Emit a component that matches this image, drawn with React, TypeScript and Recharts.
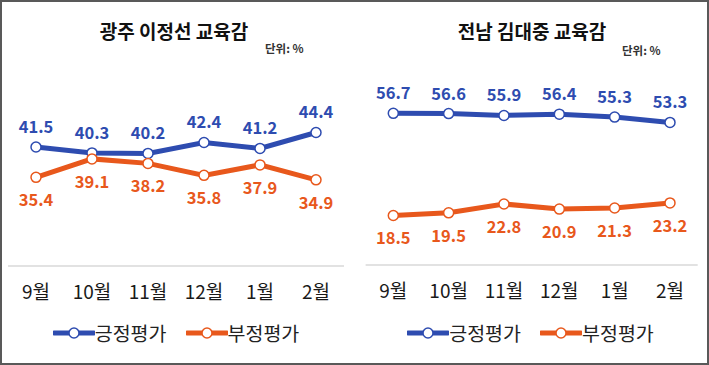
import React from 'react';
import { LineChart, Line, XAxis, YAxis, LabelList, Legend } from 'recharts';

const months = ['9월', '10월', '11월', '12월', '1월', '2월'];
const gwangjuPositive = [41.5, 40.3, 40.2, 42.4, 41.2, 44.4];
const gwangjuNegative = [35.4, 39.1, 38.2, 35.8, 37.9, 34.9];
const jeonnamPositive = [56.7, 56.6, 55.9, 56.4, 55.3, 53.3];
const jeonnamNegative = [18.5, 19.5, 22.8, 20.9, 21.3, 23.2];
const seriesNames = ['긍정평가', '부정평가'];

const BLUE = '#2E4CB0';
const ORANGE = '#E8581C';
const FONT = '"Noto Sans CJK KR", "Noto Sans", sans-serif';

const build = (pos: number[], neg: number[]) =>
  months.map((m, i) => ({ month: m, pos: pos[i], neg: neg[i] }));

const LegendContent = () => (
  <div style={{ display: 'flex', justifyContent: 'center', alignItems: 'center', fontFamily: FONT, fontSize: 19.5, color: '#222' }}>
    {[BLUE, ORANGE].map((c, i) => (
      <div key={i} style={{ display: 'flex', alignItems: 'center', marginLeft: i ? 19 : 0 }}>
        <svg width={42} height={14}>
          <line x1={1} y1={7} x2={41} y2={7} stroke={c} strokeWidth={5} strokeLinecap="round" />
          <circle cx={21} cy={7} r={5} fill="#fff" stroke={c} strokeWidth={1.5} />
        </svg>
        <span style={{ lineHeight: '24px' }}>{seriesNames[i]}</span>
      </div>
    ))}
  </div>
);

type PanelProps = {
  data: any[];
  width: number;
  domain: [number, number];
  pad: number;
  margin: { top: number; right: number; bottom: number; left: number };
};

const Panel = ({ data, width, domain, pad, margin }: PanelProps) => (
  <LineChart width={width} height={365} data={data} margin={margin}>
    <XAxis
      dataKey="month"
      height={30}
      tickLine={false}
      axisLine={{ stroke: '#D9D9D9', strokeWidth: 1.5 }}
      tick={{ fill: '#1a1a1a', fontSize: 19, fontFamily: FONT }}
      tickMargin={14}
      interval={0}
      padding={{ left: pad, right: pad }}
    />
    <YAxis hide domain={domain} allowDataOverflow />
    <Legend
      layout="horizontal"
      verticalAlign="middle"
      align="center"
      wrapperStyle={{ top: 321, left: 0, width: width }}
      content={() => <LegendContent />}
    />
    <Line
      dataKey="pos"
      name={seriesNames[0]}
      stroke={BLUE}
      strokeWidth={5}
      dot={{ r: 5, fill: '#fff', stroke: BLUE, strokeWidth: 1.5 }}
      isAnimationActive={false}
    >
      <LabelList dataKey="pos" position="top" offset={14} fill={BLUE} fontSize={16.5} fontWeight="bold" fontFamily={FONT} />
    </Line>
    <Line
      dataKey="neg"
      name={seriesNames[1]}
      stroke={ORANGE}
      strokeWidth={5}
      dot={{ r: 5, fill: '#fff', stroke: ORANGE, strokeWidth: 1.5 }}
      isAnimationActive={false}
    >
      <LabelList dataKey="neg" position="bottom" offset={17} fill={ORANGE} fontSize={16.5} fontWeight="bold" fontFamily={FONT} />
    </Line>
  </LineChart>
);

const titleStyle: React.CSSProperties = {
  position: 'absolute',
  fontFamily: FONT,
  fontWeight: 'bold',
  fontSize: 19,
  color: '#111',
  whiteSpace: 'nowrap',
  transform: 'translate(-50%, -50%)',
};
const unitStyle: React.CSSProperties = {
  position: 'absolute',
  fontFamily: FONT,
  fontWeight: 'bold',
  fontSize: 11.5,
  color: '#333',
  whiteSpace: 'nowrap',
  transform: 'translateY(-50%)',
};

export default function App() {
  return (
    <div
      style={{
        position: 'absolute',
        left: 0,
        top: 0,
        width: 709,
        height: 365,
        boxSizing: 'border-box',
        border: '2px solid #595959',
        background: '#fff',
        overflow: 'hidden',
      }}
    >
      <div style={{ position: 'absolute', left: -2, top: -2 }}>
        <Panel
          data={build(gwangjuPositive, gwangjuNegative)}
          width={352}
          domain={[17.6, 50]}
          pad={28}
          margin={{ top: 104.6, right: 8, bottom: 69, left: 8 }}
        />
      </div>
      <div style={{ position: 'absolute', left: 350, top: -2 }}>
        <Panel
          data={build(jeonnamPositive, jeonnamNegative)}
          width={357}
          domain={[0, 60]}
          pad={27.7}
          margin={{ top: 104.5, right: 11.3, bottom: 70, left: 13.6 }}
        />
      </div>
      <div style={{ ...titleStyle, left: 172, top: 28 }}>광주 이정선 교육감</div>
      <div style={{ ...titleStyle, left: 530, top: 28 }}>전남 김대중 교육감</div>
      <div style={{ ...unitStyle, left: 263, top: 46 }}>단위: %</div>
      <div style={{ ...unitStyle, left: 620, top: 48 }}>단위: %</div>
    </div>
  );
}
